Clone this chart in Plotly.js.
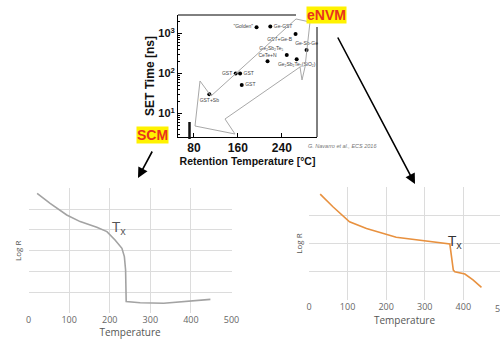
<!DOCTYPE html>
<html><head><meta charset="utf-8">
<script src="https://cdn.plot.ly/plotly-3.0.1.min.js"></script>
<style>html,body{margin:0;padding:0;background:#fff;}#chart{width:500px;height:339px;}</style>
</head><body><div id="chart"></div>
<script>
// ---- Top chart: SET time vs retention temperature ----
const materials = ['"Golden"', 'Ge-GST', 'GST+Ge-B', 'Ge-Sb-Ge', 'Ge₂Sb₂Te₅', 'Ge₂Sb₂Te₅(SiO₂)', 'CeTe+N', 'GST', 'GST', 'GST', 'GST+Sb'];
const retentionTemp = [194, 219, 265, 285, 249, 267, 214, 156, 164, 167, 108];
const setTime = [1430, 1480, 970, 387, 290, 226, 200, 100, 100, 51, 30];
const tempTicks = [80, 160, 240];
const setTickVals = [10, 100, 1000];
const setTickText = ['10<sup>1</sup>', '10<sup>2</sup>', '10<sup>3</sup>'];

// ---- Bottom-left: SCM log R vs temperature ----
const scmTemp = [21, 53, 94, 127, 168, 193, 213, 230, 236, 239, 240.5, 275, 333, 390, 448];
const scmLogR = [5.76, 5.28, 4.72, 4.40, 4.13, 3.92, 3.52, 3.12, 2.72, 2.08, 0.56, 0.51, 0.48, 0.59, 0.67];

// ---- Bottom-right: eNVM log R vs temperature ----
const envmTemp = [29, 62, 105, 149, 226, 287, 330, 365, 374, 378, 404, 425, 447];
const envmLogR = [3.75, 3.30, 2.77, 2.53, 2.22, 2.12, 2.06, 1.98, 1.06, 1.0, 0.92, 0.71, 0.45];
const tempTicks2 = [0, 100, 200, 300, 400, 500];

const W = 500, H = 339;
const fx = p => p / W, fy = p => 1 - p / H;

const traces = [
  {
    type: 'scatter', mode: 'markers+text', x: retentionTemp, y: setTime, xaxis: 'x', yaxis: 'y',
    text: materials,
    textposition: ['middle left', 'middle right', 'bottom left', 'top center', 'top left', 'bottom center', 'top center', 'middle left', 'middle right', 'middle right', 'bottom center'],
    textfont: { size: 5, color: '#444' },
    marker: { size: 4, color: '#000' }, cliponaxis: false, hoverinfo: 'skip'
  },
  {
    type: 'scatter', mode: 'lines', x: scmTemp, y: scmLogR, xaxis: 'x2', yaxis: 'y2',
    line: { color: '#a3a3a3', width: 1.6 }, hoverinfo: 'skip'
  },
  {
    type: 'scatter', mode: 'lines', x: envmTemp, y: envmLogR, xaxis: 'x3', yaxis: 'y3',
    line: { color: '#e8913f', width: 1.6 }, hoverinfo: 'skip'
  }
];

const grayArrow = [[296,19],[211,96],[200,81],[195,126],[235,134],[225,119],[300,67],[302,80],[305,67],[310,22]];
const arrowPath = grayArrow.map((p, i) => (i ? 'L' : 'M') + fx(p[0]).toFixed(4) + ',' + fy(p[1]).toFixed(4)).join(' ') + ' Z';

const smallFont = { family: 'Open Sans, Liberation Sans, sans-serif', size: 9, color: '#666' };

const layout = {
  width: W, height: H, margin: { l: 0, r: 0, t: 0, b: 0 }, autosize: false,
  paper_bgcolor: '#fff', plot_bgcolor: 'rgba(0,0,0,0)', showlegend: false,
  font: { family: 'Liberation Sans, Arial, sans-serif', color: '#000' },
  xaxis: {
    domain: [fx(178), fx(317)], range: [51, 304], anchor: 'y',
    tickvals: tempTicks, ticks: 'inside', ticklen: 4, tickcolor: '#000',
    showline: true, mirror: false, linecolor: '#000', linewidth: 1,
    showgrid: false, zeroline: false, automargin: false,
    tickfont: { size: 12, weight: 'bold', color: '#111' },
    title: { text: 'Retention Temperature [°C]', font: { size: 10.5, weight: 'bold', color: '#111' }, standoff: 2 }
  },
  yaxis: {
    domain: [fy(137), fy(15)], type: 'log', range: [0.41, 3.46], anchor: 'x',
    tickvals: setTickVals, ticktext: setTickText, ticks: 'inside', ticklen: 4, tickcolor: '#000',
    minor: { ticks: 'inside', ticklen: 2, dtick: 'D1', tickcolor: '#000' },
    showline: true, mirror: false, linecolor: '#000', linewidth: 1,
    showgrid: false, zeroline: false, automargin: false,
    tickfont: { size: 11, weight: 'bold', color: '#111' },
    title: { text: 'SET Time [ns]', font: { size: 12, weight: 'bold', color: '#111' }, standoff: 1 }
  },
  yaxis4: {
    overlaying: 'y', side: 'right', anchor: 'x', type: 'log', range: [0.41, 3.46],
    tickvals: setTickVals, ticks: 'inside', ticklen: 4, tickcolor: '#000', showticklabels: false,
    minor: { ticks: 'inside', ticklen: 2, dtick: 'D1', tickcolor: '#000' },
    showline: false, showgrid: false, zeroline: false, automargin: false
  },
  xaxis2: {
    domain: [fx(28.6), fx(231.5)], range: [0, 500], anchor: 'y2', tickvals: tempTicks2,
    showgrid: true, gridcolor: '#dcdcdc', gridwidth: 1, zeroline: false, showline: false, ticks: '',
    tickfont: smallFont, automargin: false,
    title: { text: 'Temperature', font: { family: smallFont.family, size: 10, color: '#555' }, standoff: 2 }
  },
  yaxis2: {
    domain: [fy(313.3), fy(188.3)], range: [0, 6], dtick: 1, anchor: 'x2',
    showgrid: true, gridcolor: '#dcdcdc', zeroline: false, showline: false, showticklabels: false, ticks: '',
    automargin: false,
    title: { text: 'Log R', font: { family: smallFont.family, size: 8, color: '#555' }, standoff: 4 }
  },
  xaxis3: {
    domain: [fx(309), 1], range: [0, 495], anchor: 'y3', tickvals: tempTicks2,
    showgrid: true, gridcolor: '#dcdcdc', zeroline: false, showline: false, ticks: '',
    tickfont: smallFont, automargin: false,
    title: { text: 'Temperature', font: { family: smallFont.family, size: 10, color: '#555' }, standoff: 2 }
  },
  yaxis3: {
    domain: [fy(300), fy(187)], range: [0, 4], dtick: 1, anchor: 'x3',
    showgrid: true, gridcolor: '#dcdcdc', zeroline: false, showline: false, showticklabels: false, ticks: '',
    automargin: false,
    title: { text: 'Log R', font: { family: smallFont.family, size: 8, color: '#555' }, standoff: 4 }
  },
  shapes: [
    { type: 'path', xref: 'paper', yref: 'paper', path: arrowPath, line: { color: '#a8a8a8', width: 1 }, fillcolor: 'rgba(0,0,0,0)' },
    { type: 'line', xref: 'paper', yref: 'paper', x0: fx(178), x1: fx(296), y0: fy(15), y1: fy(15), line: { color: '#000', width: 1 } },
    { type: 'line', xref: 'paper', yref: 'paper', x0: fx(317), x1: fx(317), y0: fy(27), y1: fy(137), line: { color: '#000', width: 1 } },
    { type: 'line', xref: 'paper', yref: 'paper', x0: fx(189.5), x1: fx(189.5), y0: fy(122), y1: fy(139), line: { color: '#111', width: 2.5 } }
  ],
  annotations: [
    { xref: 'paper', yref: 'paper', x: fx(326.5), y: fy(15), xanchor: 'center', yanchor: 'middle', text: '<b>eNVM</b>', showarrow: false,
      font: { size: 14, color: '#e8321e', family: 'Liberation Sans, Arial, sans-serif' }, bgcolor: '#fff200', borderpad: 0 },
    { xref: 'paper', yref: 'paper', x: fx(152.5), y: fy(135), xanchor: 'center', yanchor: 'middle', text: '<b>SCM</b>', showarrow: false,
      font: { size: 14, color: '#e8321e', family: 'Liberation Sans, Arial, sans-serif' }, bgcolor: '#fff200', borderpad: 0 },
    { xref: 'paper', yref: 'paper', x: fx(306), y: fy(146), xanchor: 'left', yanchor: 'middle', text: '<i>G. Navarro et al., ECS 2016</i>', showarrow: false,
      font: { size: 5.5, color: '#777' } },
    { xref: 'paper', yref: 'paper', x: fx(138), y: fy(178), ax: 15, ay: -28, axref: 'pixel', ayref: 'pixel', text: '',
      showarrow: true, arrowhead: 2, arrowsize: 1.3, arrowwidth: 1.6, arrowcolor: '#000' },
    { xref: 'paper', yref: 'paper', x: fx(415), y: fy(184), ax: -78, ay: -148, axref: 'pixel', ayref: 'pixel', text: '',
      showarrow: true, arrowhead: 2, arrowsize: 1.3, arrowwidth: 1.6, arrowcolor: '#000' },
    { xref: 'x2', yref: 'y2', x: 201, y: 4.15, xanchor: 'left', yanchor: 'middle', text: 'T<sub>x</sub>', showarrow: false,
      font: { size: 15, color: '#555', family: 'Open Sans, Liberation Sans, sans-serif' } },
    { xref: 'x3', yref: 'y3', x: 356, y: 2.1, xanchor: 'left', yanchor: 'middle', text: 'T<sub>x</sub>', showarrow: false,
      font: { size: 15, color: '#333', family: 'Open Sans, Liberation Sans, sans-serif' } },
    { xref: 'paper', yref: 'paper', x: fx(502), y: fy(308), xanchor: 'center', yanchor: 'middle', text: '500', showarrow: false, font: smallFont }
  ]
};

Plotly.newPlot('chart', traces, layout, { staticPlot: true, displayModeBar: false });
</script>
</body></html>
